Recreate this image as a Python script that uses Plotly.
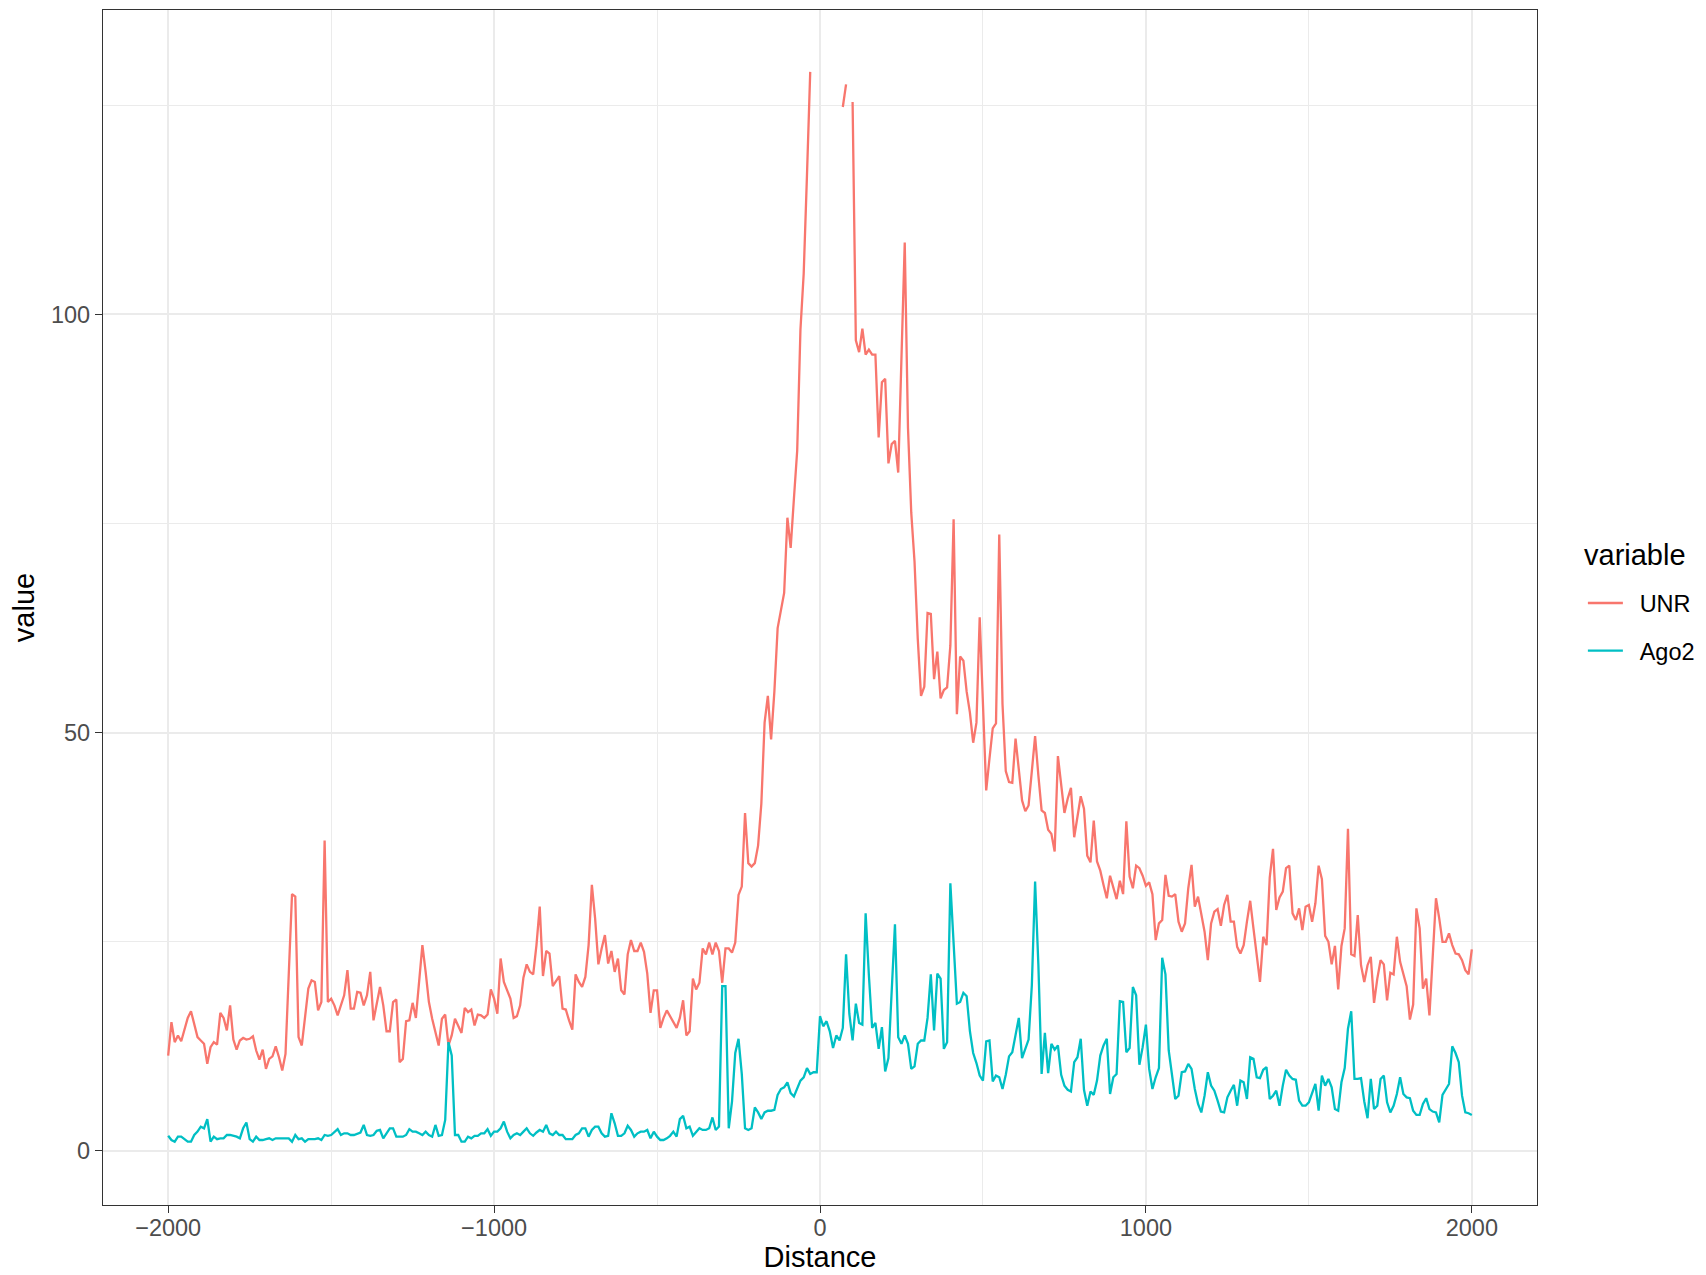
import plotly.graph_objects as go

# ---- data ----
distance = list(range(-2000, 2001, 10))

unr_a = [  # -2000 .. -1500
    11.4, 15.4, 13.0, 13.8, 13.1, 14.6, 15.9, 16.7, 15.0, 13.6,
    13.2, 12.8, 10.4, 12.4, 13.0, 12.7, 16.5, 15.9, 14.4, 17.4,
    13.3, 12.1, 13.2, 13.5, 13.3, 13.4, 13.7, 12.0, 10.9, 12.1,
    9.8, 11.0, 11.3, 12.5, 11.2, 9.6, 11.6, 21.8, 30.7, 30.4,
    13.6, 12.6, 16.2, 19.4, 20.4, 20.2, 16.8, 17.8, 37.1, 17.8,
    18.2]
unr_b = [  # -1490 .. -1000
    17.4, 16.2, 17.4, 18.6, 21.6, 17.0, 17.0, 19.0, 18.9, 17.4,
    18.6, 21.4, 15.6, 17.4, 19.6, 17.4, 14.3, 14.3, 17.8, 18.1,
    10.6, 11.0, 15.5, 15.6, 17.7, 15.9, 20.8, 24.6, 21.4, 17.8,
    15.8, 14.2, 12.6, 15.8, 16.3, 12.6, 13.8, 15.8, 15.0, 14.1,
    17.1, 16.6, 16.9, 15.0, 16.3, 16.2, 15.9, 16.3, 19.3, 18.2]
unr_c = [  # -990 .. -500
    16.4, 23.0, 20.2, 19.2, 18.2, 15.9, 16.1, 17.4, 20.7, 22.3,
    21.4, 21.1, 24.6, 29.2, 20.9, 23.9, 23.6, 19.7, 20.3, 20.9,
    17.0, 16.9, 15.6, 14.5, 21.1, 20.2, 19.6, 20.8, 24.6, 31.8,
    27.8, 22.3, 24.2, 25.8, 22.4, 23.9, 21.4, 23.0, 19.2, 18.7,
    23.5, 25.2, 23.9, 23.9, 24.9, 23.8, 21.2, 16.5, 19.2, 19.2]
unr_d = [  # -490 .. -30
    14.7, 15.9, 16.8, 16.1, 15.5, 14.7, 15.9, 18.0, 13.8, 14.3,
    20.6, 19.3, 20.1, 24.2, 23.5, 24.9, 23.5, 24.9, 23.9, 20.1,
    24.2, 24.2, 23.7, 24.9, 30.6, 31.6, 40.4, 34.4, 34.0, 34.4,
    36.5, 41.5, 51.2, 54.4, 49.2, 54.9, 62.5, 64.6, 66.7, 75.7,
    72.1, 78.0, 83.7, 98.2, 104.9, 116.6, 129.0]
unr_e = [  # -20 .. 90 (missing values near the centre)
    None, None, None, None, None, None, None, None, None,
    124.8, 127.5, None]
unr_f = [  # 100 .. 490
    125.4, 96.9, 95.5, 98.3, 95.2, 95.8, 95.2, 95.2, 85.3, 91.9,
    92.3, 82.2, 84.5, 84.9, 81.1, 94.8, 108.6, 86.4, 76.3, 70.5,
    61.2, 54.4, 55.5, 64.3, 64.2, 56.4, 59.7, 54.1, 55.1, 55.4,
    60.4, 75.5, 52.2, 59.1, 58.6, 54.9, 52.4, 48.8, 51.2, 63.8]
unr_g = [  # 500 .. 1000
    52.5, 43.1, 46.9, 50.5, 51.1, 73.7, 53.4, 45.4, 44.1, 44.0,
    49.3, 45.4, 41.9, 40.6, 41.3, 45.4, 49.6, 44.9, 40.7, 40.4,
    38.4, 37.9, 35.8, 47.2, 43.4, 40.4, 42.1, 43.4, 37.5, 39.9,
    42.4, 40.9, 35.3, 34.5, 39.5, 34.6, 33.5, 31.8, 30.2, 32.9,
    31.6, 30.1, 32.3, 30.7, 39.4, 32.8, 31.4, 34.1, 33.8, 32.9,
    31.7]
unr_h = [  # 1010 .. 1500
    32.1, 30.7, 25.2, 27.2, 27.6, 33.0, 30.5, 30.4, 30.7, 27.4,
    26.2, 27.2, 31.4, 34.2, 29.2, 30.4, 28.2, 26.2, 22.8, 27.2,
    28.6, 28.9, 26.9, 29.4, 30.6, 27.4, 27.4, 24.4, 23.6, 24.6,
    27.4, 29.9, 26.6, 23.2, 20.2, 25.6, 24.6, 32.7, 36.1, 28.8,
    30.3, 31.0, 33.8, 34.1, 28.4, 27.6, 29.0, 26.4, 29.2, 29.4]
unr_i = [  # 1510 .. 2000
    27.4, 29.6, 34.1, 32.5, 25.7, 25.0, 22.3, 24.5, 19.3, 24.5,
    26.6, 38.5, 23.5, 23.3, 28.2, 22.2, 20.2, 22.2, 23.2, 17.7,
    20.6, 22.8, 22.3, 18.0, 21.3, 21.1, 25.6, 22.6, 21.0, 19.7,
    15.7, 17.5, 29.0, 26.6, 19.4, 20.6, 16.2, 23.5, 30.2, 27.8,
    25.0, 25.0, 26.0, 24.6, 23.6, 23.5, 22.8, 21.6, 21.1, 24.1]

ago2_a = [  # -2000 .. -1500
    1.8, 1.3, 1.1, 1.7, 1.7, 1.4, 1.1, 1.1, 1.9, 2.3,
    2.9, 2.7, 3.8, 1.1, 1.7, 1.4, 1.5, 1.5, 1.9, 1.9,
    1.8, 1.7, 1.5, 2.7, 3.4, 1.4, 1.1, 1.7, 1.3, 1.3,
    1.4, 1.5, 1.3, 1.5, 1.5, 1.5, 1.5, 1.5, 1.1, 1.9,
    1.4, 1.5, 1.1, 1.4, 1.4, 1.4, 1.5, 1.3, 1.9, 1.8,
    1.9]
ago2_b = [  # -1490 .. -1000
    2.2, 2.6, 1.9, 2.1, 2.1, 1.9, 1.9, 2.1, 2.2, 3.1,
    1.9, 1.8, 1.9, 2.4, 2.5, 1.5, 2.1, 2.7, 2.7, 1.7,
    1.7, 1.7, 1.9, 2.6, 2.3, 2.3, 2.1, 1.9, 2.3, 1.9,
    1.7, 3.1, 1.8, 1.9, 3.7, 13.0, 11.4, 1.9, 1.9, 1.1,
    1.1, 1.7, 1.5, 1.8, 1.8, 2.1, 2.1, 2.6, 1.8, 2.3]
ago2_c = [  # -990 .. -500
    2.3, 2.7, 3.5, 2.3, 1.5, 1.9, 2.1, 1.9, 2.3, 2.7,
    2.1, 1.8, 2.2, 2.5, 2.3, 3.1, 2.1, 1.9, 2.3, 1.9,
    1.9, 1.4, 1.4, 1.4, 1.9, 2.1, 2.7, 2.7, 1.7, 2.5,
    2.9, 2.9, 2.1, 1.7, 1.8, 4.5, 3.3, 1.8, 1.8, 2.1,
    3.0, 2.5, 1.7, 2.1, 2.3, 2.3, 2.5, 1.5, 2.3, 1.7]
ago2_d = [  # -490 .. -10
    1.3, 1.3, 1.5, 1.8, 2.3, 1.7, 3.8, 4.2, 2.7, 2.9,
    1.8, 2.3, 2.7, 2.5, 2.5, 2.7, 4.0, 2.5, 2.9, 19.7,
    19.7, 2.7, 5.9, 11.7, 13.4, 9.2, 2.7, 2.5, 2.7, 5.2,
    4.6, 3.8, 4.6, 4.8, 4.8, 4.9, 6.7, 7.4, 7.6, 8.2,
    6.9, 6.5, 7.4, 8.4, 8.8, 9.9, 9.2, 9.4, 9.4]
ago2_e = [  # 0 .. 500
    16.1, 14.9, 15.5, 14.3, 12.3, 13.8, 13.2, 14.7, 23.5, 16.4,
    13.2, 17.6, 15.3, 15.1, 28.4, 21.0, 14.7, 15.3, 12.2, 14.8,
    9.5, 11.1, 18.5, 27.1, 13.6, 12.8, 13.8, 12.8, 9.8, 10.1,
    12.8, 13.2, 13.2, 15.9, 21.1, 14.4, 21.2, 20.6, 12.2, 13.0,
    32.0, 24.7, 17.6, 17.8, 18.9, 18.5, 14.3, 11.7, 10.5, 9.0,
    8.4]
ago2_f = [  # 510 .. 1000
    13.1, 13.2, 8.3, 9.0, 8.8, 7.4, 9.1, 11.3, 11.8, 13.9,
    15.9, 11.1, 12.1, 13.3, 19.8, 32.2, 22.3, 9.2, 14.1, 9.3,
    12.8, 12.1, 12.6, 9.1, 7.8, 7.3, 7.1, 10.6, 11.2, 13.4,
    7.3, 5.4, 7.1, 6.7, 8.4, 11.4, 12.6, 13.4, 6.8, 8.8,
    9.2, 17.9, 17.8, 11.8, 12.3, 19.6, 18.6, 10.3, 12.4, 15.1]
ago2_g = [  # 1010 .. 1500
    9.8, 7.4, 8.8, 9.9, 23.1, 21.1, 12.0, 9.0, 6.2, 6.6,
    9.4, 9.5, 10.4, 9.8, 7.4, 5.6, 4.6, 6.6, 9.4, 7.8,
    7.2, 6.0, 4.7, 4.6, 6.4, 7.2, 7.9, 5.4, 8.4, 8.2,
    6.2, 11.2, 11.0, 8.8, 8.7, 9.7, 10.0, 6.2, 6.6, 7.2,
    5.4, 7.8, 9.7, 9.0, 8.6, 8.5, 6.0, 5.4, 5.4, 5.8]
ago2_h = [  # 1510 .. 2000
    6.8, 8.0, 4.8, 9.0, 7.8, 8.6, 7.6, 5.0, 4.8, 8.2,
    9.9, 14.6, 16.7, 8.6, 8.6, 8.7, 5.9, 3.9, 8.6, 5.0,
    5.4, 8.6, 9.0, 5.8, 4.6, 5.4, 6.8, 8.8, 6.8, 6.4,
    6.3, 4.8, 4.3, 4.3, 5.6, 6.3, 5.0, 4.7, 4.6, 3.4,
    6.7, 7.4, 8.0, 12.5, 11.7, 10.6, 6.6, 4.6, 4.5, 4.3]

unr = unr_a + unr_b + unr_c + unr_d + unr_e + unr_f + unr_g + unr_h + unr_i
ago2 = ago2_a + ago2_b + ago2_c + ago2_d + ago2_e + ago2_f + ago2_g + ago2_h
assert len(unr) == len(distance) == len(ago2), (len(unr), len(ago2), len(distance))

series_names = ["UNR", "Ago2"]
series_colors = ["#F8766D", "#00BFC4"]
legend_title = "variable"
x_major = [-2000, -1000, 0, 1000, 2000]
x_minor = [-1500, -500, 500, 1500]
y_major = [0, 50, 100]
y_minor = [25, 75, 125]

FONT = "Liberation Sans, Arial, Helvetica, sans-serif"

fig = go.Figure()
for name, vals, col in zip(series_names, [unr, ago2], series_colors):
    fig.add_trace(go.Scatter(
        x=distance, y=vals, mode="lines",
        name="\u2002" + name,  # small gap between legend key and label
        legendgroup=name, hovertemplate=name + ": %{y}<extra></extra>",
        line=dict(color=col, width=2.3), connectgaps=False,
    ))

axis_common = dict(
    automargin=False,
    showgrid=True, gridcolor="#EBEBEB", gridwidth=1.8,
    zeroline=False, showline=True, linecolor="#333333", linewidth=1.3,
    mirror=True, ticks="outside", ticklen=7, tickwidth=1.3, tickcolor="#333333",
    tickfont=dict(family=FONT, size=23.5, color="#4D4D4D"),
)

# the page adds an 8px body margin, so the figure is 8px smaller and
# its margins are shifted accordingly
fig.update_layout(
    width=1698, height=1267,
    paper_bgcolor="white", plot_bgcolor="white",
    margin=dict(l=95, r=169, t=2, b=70, autoexpand=False),
    font=dict(family=FONT, color="black"),
    xaxis=dict(
        range=[-2200, 2200], tickvals=x_major,
        minor=dict(tickvals=x_minor, showgrid=True, gridcolor="#EBEBEB",
                   gridwidth=0.9, ticks=""),
        ticklabelstandoff=-5,
        title=dict(text="Distance", font=dict(family=FONT, size=29, color="black"),
                   standoff=2),
        **axis_common,
    ),
    yaxis=dict(
        range=[-6.47, 136.4], tickvals=y_major,
        minor=dict(tickvals=y_minor, showgrid=True, gridcolor="#EBEBEB",
                   gridwidth=0.9, ticks=""),
        title=dict(text="value", font=dict(family=FONT, size=29, color="black"),
                   standoff=8),
        **axis_common,
    ),
    legend=dict(
        x=1.032, xanchor="left", y=0.522, yanchor="top",
        bgcolor="rgba(0,0,0,0)", borderwidth=0,
        font=dict(family=FONT, size=23.5, color="black"),
        itemwidth=35, tracegroupgap=14,
    ),
    showlegend=True,
    annotations=[dict(
        text=legend_title, xref="paper", yref="paper",
        x=1.0314, xanchor="left", y=0.544, yanchor="middle",
        showarrow=False, font=dict(family=FONT, size=29, color="black"),
    )],
)

fig.write_html("out.html")
